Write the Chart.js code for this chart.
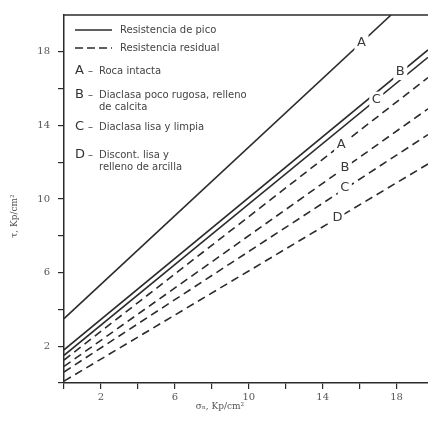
<!DOCTYPE html>
<html>
<head>
<meta charset="utf-8">
<script src="https://cdn.jsdelivr.net/npm/chart.js@4.4.1/dist/chart.umd.min.js"></script>
<style>
  html, body { margin: 0; padding: 0; background: #fff; }
</style>
</head>
<body>
<canvas id="myChart" width="428" height="427"></canvas>
<script>
// tick positions (every 2) and the ones that carry a label
const tickValues = [0, 2, 4, 6, 8, 10, 12, 14, 16, 18];
const tickLabels = [2, 6, 10, 14, 18];

// lines: letter, kind, value at sigma=0, end point
const lineLetters = ['A', 'B', 'C', 'A', 'B', 'C', 'D'];
const lineResidual = [false, false, false, true, true, true, true];
const startTau = [3.5, 1.8, 1.5, 1.25, 0.9, 0.6, 0.1];
const endSigma = [17.7, 19.7, 19.7, 19.7, 19.7, 19.7, 19.7];
const endTau = [20, 18.1, 17.7, 16.6, 14.9, 13.5, 11.9];
// where the letter sits on each line (sigma, tau)
const labelSigma = [16.1, 18.2, 16.9, 15.0, 15.2, 15.2, 14.8];
const labelTau = [18.5, 16.9, 15.4, 12.95, 11.7, 10.6, 9.0];

const legendLines = [
  'Resistencia de pico',
  'Resistencia residual'
];
const legendItems = [
  ['A', ['Roca intacta']],
  ['B', ['Diaclasa poco rugosa, relleno', 'de calcita']],
  ['C', ['Diaclasa lisa y limpia']],
  ['D', ['Discont. lisa y', 'relleno de arcilla']]
];

const ink = '#2b2b2b';

const datasets = lineLetters.map((letter, i) => ({
  label: letter + (lineResidual[i] ? ' residual' : ' pico'),
  data: [{ x: 0, y: startTau[i] }, { x: endSigma[i], y: endTau[i] }],
  borderColor: ink,
  borderWidth: 1.6,
  borderDash: lineResidual[i] ? [8, 5] : [],
  pointRadius: 0,
  fill: false,
  tension: 0
}));

const fixTicks = scale => {
  scale.ticks = tickValues.map(v => ({ value: v }));
};

// letters on the lines, legend box, axis titles and top frame line
const extras = {
  id: 'extras',
  afterDatasetsDraw(chart) {
    const ctx = chart.ctx;
    const xs = chart.scales.x, ys = chart.scales.y;
    ctx.save();
    ctx.font = '13px "DejaVu Sans", sans-serif';
    ctx.textAlign = 'center';
    ctx.textBaseline = 'middle';
    lineLetters.forEach((letter, i) => {
      const px = xs.getPixelForValue(labelSigma[i]);
      const py = ys.getPixelForValue(labelTau[i]);
      ctx.fillStyle = '#fff';
      ctx.fillRect(px - 7, py - 8, 14, 16);
      ctx.fillStyle = '#3a3a3a';
      ctx.fillText(letter, px, py);
    });
    ctx.restore();
  },
  afterDraw(chart) {
    const ctx = chart.ctx;
    const area = chart.chartArea;
    ctx.save();
    // top frame
    ctx.strokeStyle = ink;
    ctx.lineWidth = 1.5;
    ctx.beginPath();
    ctx.moveTo(area.left, area.top);
    ctx.lineTo(area.right, area.top);
    ctx.stroke();

    // legend
    ctx.lineWidth = 1.6;
    ctx.beginPath();
    ctx.moveTo(75, 30);
    ctx.lineTo(112, 30);
    ctx.stroke();
    ctx.setLineDash([8, 4]);
    ctx.beginPath();
    ctx.moveTo(75, 48);
    ctx.lineTo(112, 48);
    ctx.stroke();
    ctx.setLineDash([]);

    ctx.fillStyle = '#444';
    ctx.textBaseline = 'middle';
    ctx.textAlign = 'left';
    ctx.font = '10px "DejaVu Sans", sans-serif';
    ctx.fillText(legendLines[0], 120, 30);
    ctx.fillText(legendLines[1], 120, 48);

    const rowY = [71, 95, 127, 155];
    legendItems.forEach((item, i) => {
      ctx.font = '13px "DejaVu Sans", sans-serif';
      ctx.fillStyle = '#333';
      ctx.fillText(item[0], 75, rowY[i]);
      ctx.font = '10px "DejaVu Sans", sans-serif';
      ctx.fillStyle = '#444';
      ctx.fillText('–', 88, rowY[i]);
      item[1].forEach((txt, j) => {
        ctx.fillText(txt, 99, rowY[i] + j * 12);
      });
    });

    // axis titles
    ctx.fillStyle = '#555';
    ctx.font = '9px "DejaVu Serif", serif';
    ctx.textAlign = 'center';
    ctx.fillText('σₙ, Kp/cm²', 220, 407);
    ctx.translate(15, 216);
    ctx.rotate(-Math.PI / 2);
    ctx.fillText('τ, Kp/cm²', 0, 0);
    ctx.restore();
  }
};

new Chart(document.getElementById('myChart').getContext('2d'), {
  type: 'line',
  data: { datasets: datasets },
  options: {
    responsive: false,
    animation: false,
    layout: { padding: { top: 15, right: 0, left: 0, bottom: 0 } },
    plugins: { legend: { display: false }, tooltip: { enabled: false } },
    scales: {
      x: {
        type: 'linear',
        min: 0,
        max: 19.7,
        afterFit: s => { s.height = 44; },
        afterBuildTicks: fixTicks,
        ticks: {
          autoSkip: false,
          maxRotation: 0,
          padding: 2,
          color: '#555',
          font: { size: 10, family: '"DejaVu Serif", serif' },
          callback: v => tickLabels.includes(v) ? String(v) : ''
        },
        grid: { drawOnChartArea: false, tickLength: 6, color: ink, lineWidth: 1.2 },
        border: { color: ink, width: 1.5 }
      },
      y: {
        min: 0,
        max: 20,
        afterFit: s => { s.width = 64; },
        afterBuildTicks: fixTicks,
        ticks: {
          autoSkip: false,
          padding: 8,
          color: '#555',
          font: { size: 10, family: '"DejaVu Serif", serif' },
          callback: v => tickLabels.includes(v) ? String(v) : ''
        },
        grid: { drawOnChartArea: false, tickLength: 6, color: ink, lineWidth: 1.2 },
        border: { color: ink, width: 1.5 }
      }
    }
  },
  plugins: [extras]
});
</script>
</body>
</html>
